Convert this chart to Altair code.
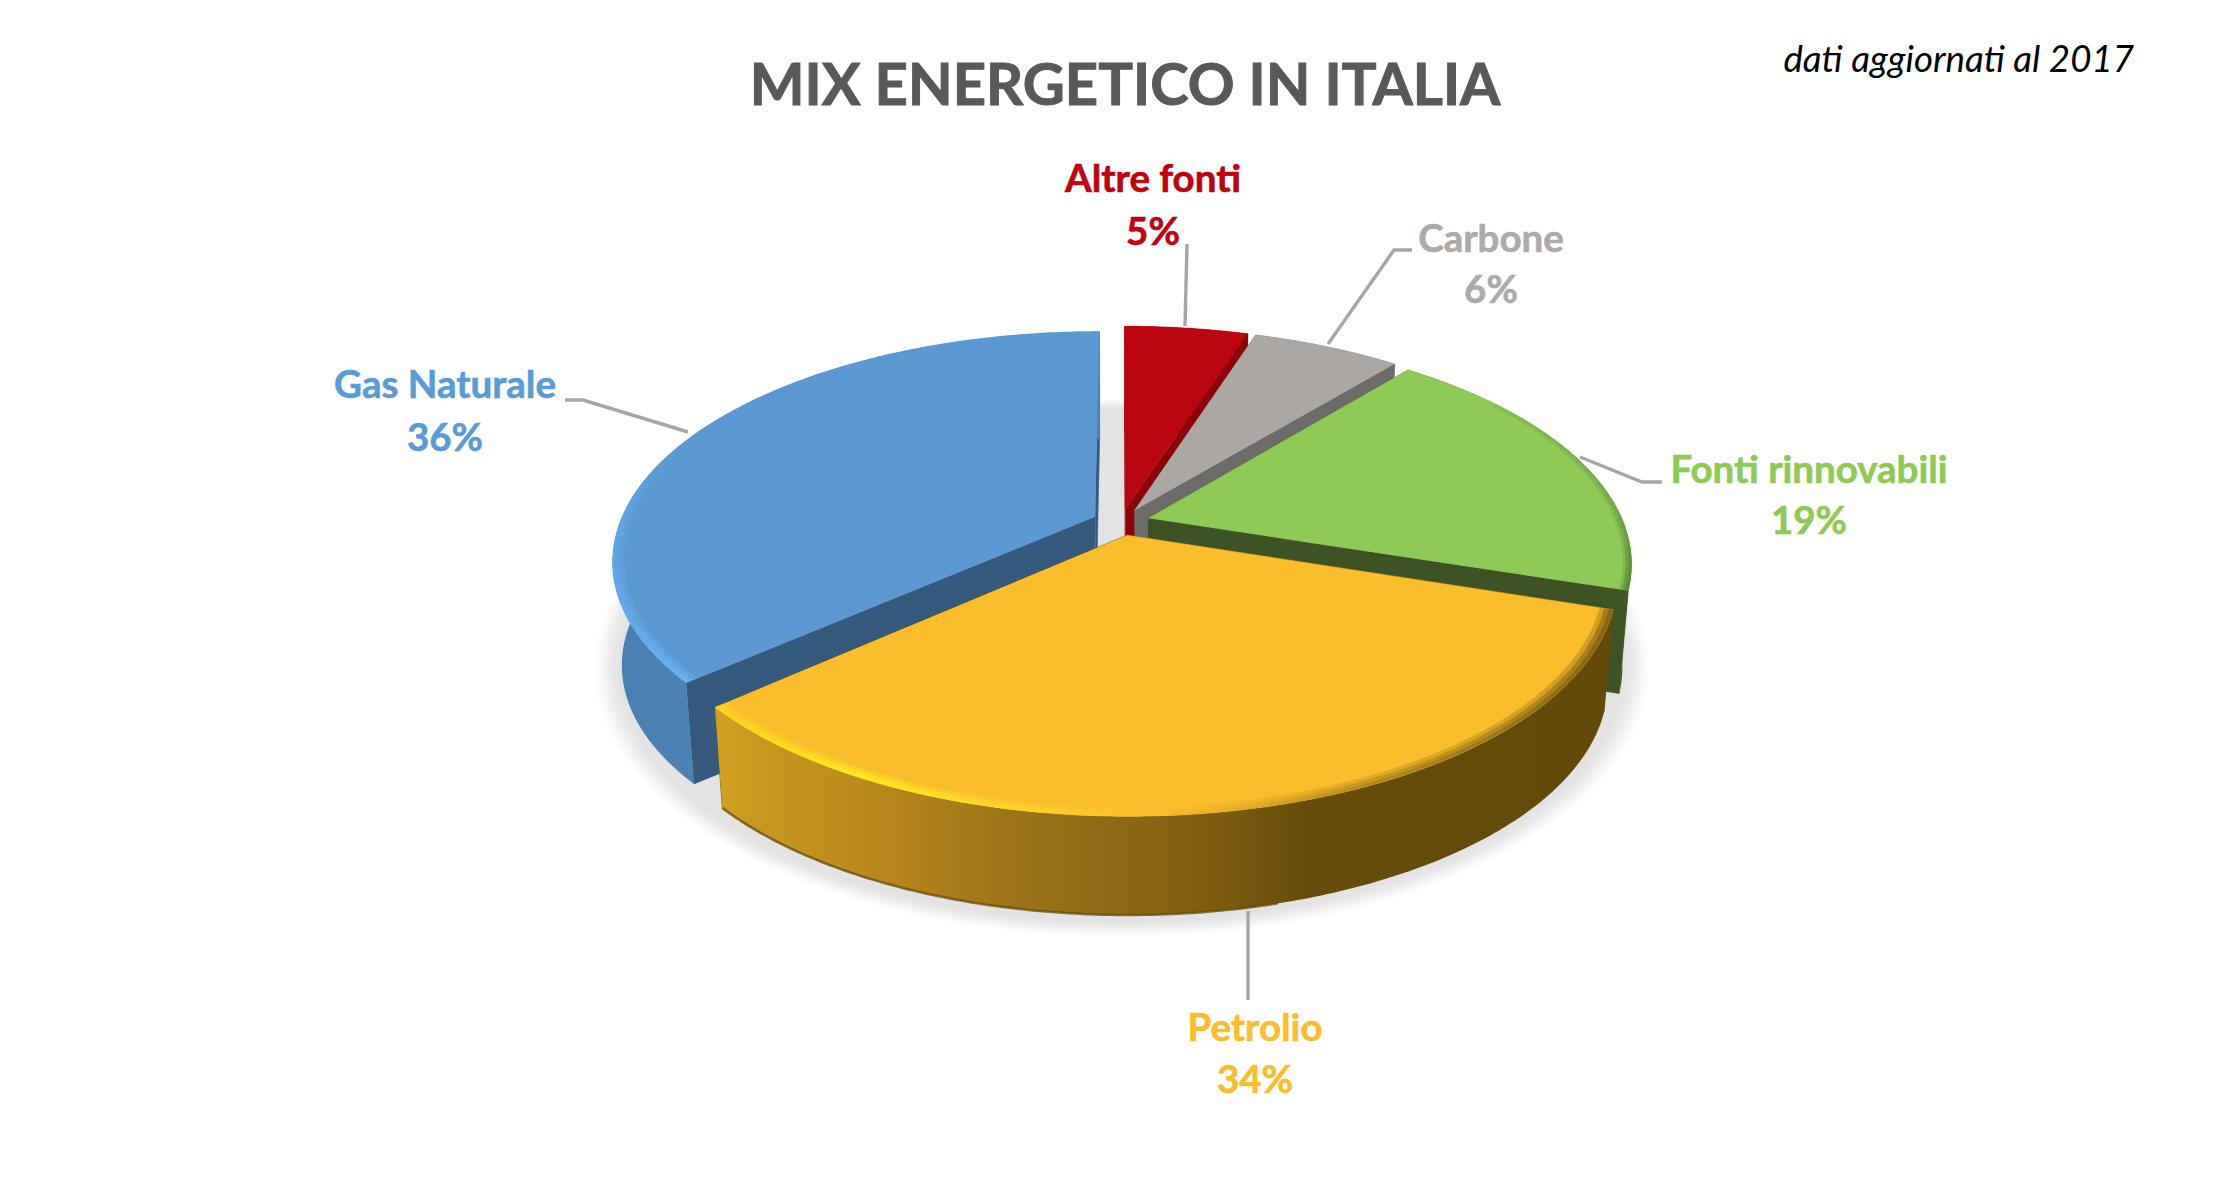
import math
import altair as alt
import pandas as pd

# ---- chart values -----------------------------------------------------
labels = ["Altre fonti", "Carbone", "Fonti rinnovabili", "Gas Naturale", "Petrolio"]
shares = [5, 6, 19, 36.5, 33.5]
pct_text = ["5%", "6%", "19%", "36%", "34%"]
# clockwise order around the pie, from 12 o'clock
clockwise = ["Altre fonti", "Carbone", "Fonti rinnovabili", "Petrolio", "Gas Naturale"]

top_colors = ["#ba0510", "#aba7a5", "#8fca57", "#5c99d3", "#fabd2c"]
text_colors = ["#c00010", "#aeaaaa", "#8fca57", "#5b9bd5", "#fbbd2d"]
radial_colors = ["#8c0209", "#6d6a6a", "#3d5225", "#365a7e", "#644a0a"]
rim_colors = ["#8c0209", "#6d6a6a", "#3f5526", "#4d83b6", "#644a0a"]

label_x = [1153, 1491, 1809, 445, 1255]
label_y = [180, 240, 471, 386, 1029]
pct_y = [233, 291, 522, 439, 1081]

leaders = [
    [(1187, 244), (1185, 326)],
    [(1412, 250), (1394, 250), (1328, 344)],
    [(1662, 482), (1642, 482), (1580, 457)],
    [(565, 400), (583, 400), (688, 432)],
    [(1248, 911), (1248, 1000)],
]

# ---- view of the tilted pie ------------------------------------------
CX, CY = 1121.0, 522.0
RX, RY = 475.0, 222.0
PERSP = 0.19
EXPLODE = 0.06
DEPTH = 104.0
DEPTH_SHRINK = 0.982
FONT = "Lato"

W, H = 2198, 1160


def project(px, py, low=False):
    w = 1 + PERSP * py
    x = CX + RX * px / w
    y = CY - RY * py / w
    if low:
        x = CX + (x - CX) * DEPTH_SHRINK
        y = CY + (y - CY) * DEPTH_SHRINK + DEPTH
    return x, y


spans = {}
acc = 0.0
for name in clockwise:
    s = shares[labels.index(name)]
    spans[name] = (acc * 3.6, (acc + s) * 3.6)
    acc += s


def tip_of(name):
    a, b = spans[name]
    m = math.radians((a + b) / 2)
    return EXPLODE * math.sin(m), EXPLODE * math.cos(m)


def arc(name, a, b, r=1.0, low=False):
    tx, ty = tip_of(name)
    n = max(2, int(abs(b - a) * 1.5))
    out = []
    for i in range(n + 1):
        t = math.radians(a + (b - a) * i / n)
        out.append(project(tx + r * math.sin(t), ty + r * math.cos(t), low))
    return out


def xs(**kw):
    return alt.X("x:Q", scale=alt.Scale(domain=[8, 8 + W], nice=False, zero=False), axis=None, **kw)


def ys(**kw):
    return alt.Y("y:Q", scale=alt.Scale(domain=[8 + H, 8], nice=False, zero=False), axis=None, **kw)


def frame(pts):
    return pd.DataFrame({"x": [p[0] for p in pts], "y": [p[1] for p in pts], "o": list(range(len(pts)))})


def poly(pts, fill, stroke=None, opacity=1.0):
    kw = dict(fill=fill, opacity=opacity, interpolate="linear")
    if stroke:
        kw.update(stroke=stroke, strokeWidth=0.6)
    else:
        kw.update(strokeWidth=0)
    return alt.Chart(frame(pts)).mark_line(**kw).encode(x=xs(), y=ys(), order=alt.Order("o:Q"))


def stroke_line(pts, color, width, opacity=1.0):
    return alt.Chart(frame(pts)).mark_line(
        stroke=color, strokeWidth=width, opacity=opacity, interpolate="linear"
    ).encode(x=xs(), y=ys(), order=alt.Order("o:Q"))


def grad(stops, vertical=False):
    return {
        "gradient": "linear",
        "x1": 0, "y1": 0,
        "x2": 0 if vertical else 1,
        "y2": 1 if vertical else 0,
        "stops": [{"offset": o, "color": c} for o, c in stops],
    }


layers = []

# soft floor shadow, as a stack of faint rings
for k in [1.035, 1.028, 1.021, 1.014, 1.007, 1.0, 0.99]:
    pts = []
    for d in range(0, 360, 2):
        t = math.radians(d)
        w = 1 + PERSP * math.cos(t)
        pts.append((1122 + 500 * k * math.sin(t) / w, 617 - 250 * k * math.cos(t) / w))
    layers.append(poly(pts, "#000000", opacity=0.016))

petrolio_wall = grad([
    (0.016, "#cf9e22"), (0.047, "#c8991f"), (0.195, "#b7861c"), (0.32, "#9d7418"),
    (0.434, "#8f6915"), (0.547, "#7f5e11"), (0.66, "#664c0a"), (1.0, "#644a0a"),
])
gas_wall = grad([(0.0, "#4a7fb2"), (0.5, "#4f86ba"), (1.0, "#4a80b4")])

for name in ["Altre fonti", "Carbone", "Fonti rinnovabili", "Gas Naturale", "Petrolio"]:
    i = labels.index(name)
    a, b = spans[name]
    tx, ty = tip_of(name)
    tip_top = project(tx, ty)
    tip_low = project(tx, ty, True)
    top = arc(name, a, b)
    low = arc(name, a, b, low=True)

    # radial walls
    layers.append(poly([tip_top, top[0], low[0], tip_low], radial_colors[i], radial_colors[i]))
    layers.append(poly([tip_top, top[-1], low[-1], tip_low], radial_colors[i], radial_colors[i]))
    # outer wall
    wall_fill = {"Petrolio": petrolio_wall, "Gas Naturale": gas_wall}.get(name, rim_colors[i])
    layers.append(poly(top + low[::-1], wall_fill))
    if name == "Petrolio":
        layers.append(stroke_line(arc(name, 165, b, low=True), "#6b4f0c", 2.5, 0.8))
    # top face
    layers.append(poly([tip_top] + top, top_colors[i], top_colors[i]))

    # bevelled rim of the top face: nested thin bands fade towards the face
    if name == "Gas Naturale":
        for r, op in [(0.992, 0.45), (0.984, 0.4), (0.976, 0.3)]:
            band = arc(name, a, 290) + arc(name, 290, a, r=r)
            layers.append(poly(band, grad([(0.0, "#5c99d3"), (0.3, "#60a6e6"), (1.0, "#6cb6fa")], True), opacity=op))
    if name == "Petrolio":
        for r, op in [(0.992, 0.55), (0.983, 0.45), (0.974, 0.3)]:
            band = arc(name, a, b) + arc(name, b, a, r=r)
            layers.append(poly(band, grad([
                (0.0, "#ffd31f"), (0.17, "#fff51c"), (0.34, "#ffd628"), (0.48, "#fcc02c"),
                (0.58, "#e2aa26"), (0.72, "#a88016"), (1.0, "#6e5410"),
            ]), opacity=op))
    if name == "Fonti rinnovabili":
        for r, op in [(0.994, 0.7), (0.988, 0.5), (0.982, 0.3)]:
            band = arc(name, 55, b) + arc(name, b, 55, r=r)
            layers.append(poly(band, grad([(0.0, "#84ba50"), (0.6, "#6f9f44"), (1.0, "#557f33")], True), opacity=op))

# leader lines
for seg in leaders:
    layers.append(stroke_line(seg, "#a6a6a6", 3.4))

# data labels
for i, name in enumerate(labels):
    df = pd.DataFrame({"x": [label_x[i], label_x[i]], "y": [label_y[i], pct_y[i]], "t": [name, pct_text[i]]})
    layers.append(
        alt.Chart(df).mark_text(
            font=FONT, fontSize=38.5, fontWeight="bold", color=text_colors[i], stroke=text_colors[i],
            strokeWidth=0.6, align="center", baseline="middle"
        ).encode(x=xs(), y=ys(), text="t:N")
    )

# title and note
title_df = pd.DataFrame({"x": [1125], "y": [88], "t": ["MIX ENERGETICO IN ITALIA"]})
layers.append(
    alt.Chart(title_df).mark_text(
        font=FONT, fontSize=58, fontWeight="bold", color="#595959", stroke="#595959", strokeWidth=1.0,
        align="center", baseline="middle"
    ).encode(x=xs(), y=ys(), text="t:N")
)
note_df = pd.DataFrame({"x": [2134], "y": [61], "t": ["dati aggiornati al 2017"]})
layers.append(
    alt.Chart(note_df).mark_text(
        font=FONT, fontSize=36.7, fontStyle="italic", color="#000000", align="right", baseline="middle"
    ).encode(x=xs(), y=ys(), text="t:N")
)

chart = alt.layer(*layers).properties(width=W, height=H, padding=0, background="#ffffff").configure_view(strokeWidth=0)
chart.save("out.html", embed_options={"renderer": "svg", "actions": False})
